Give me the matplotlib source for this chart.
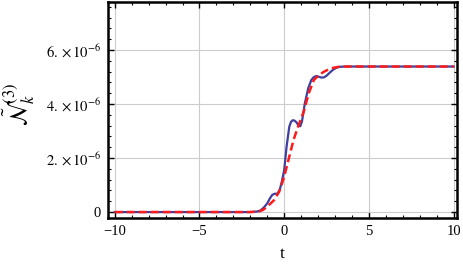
import matplotlib
matplotlib.use("Agg")
import matplotlib.pyplot as plt
from matplotlib.ticker import MultipleLocator

plt.rcParams['font.family'] = ['Liberation Serif', 'DejaVu Serif']
plt.rcParams['mathtext.fontset'] = 'stix'

# Blue solid curve (t, N*1e6)
t_blue = [-10, -2.0, -1.6, -1.4, -1.2, -1.0, -0.85, -0.7, -0.55, -0.4, -0.27, -0.15,
          0.0, 0.14, 0.3, 0.4, 0.5, 0.6, 0.73, 0.85, 0.95, 1.05, 1.22, 1.42, 1.6,
          1.75, 1.9, 2.05, 2.2, 2.35, 2.5, 2.7, 2.9, 3.1, 3.3, 3.6, 10]
n_blue = [0.0, 0.0, 0.02, 0.06, 0.17, 0.32, 0.50, 0.64, 0.68, 0.68, 0.81, 1.10,
          1.55, 2.42, 3.16, 3.34, 3.40, 3.39, 3.32, 3.20, 3.18, 3.36, 4.03, 4.59, 4.89,
          5.00, 5.04, 5.01, 4.98, 4.99, 5.05, 5.17, 5.28, 5.35, 5.38, 5.39, 5.39]

# Red dashed curve
t_red = [-10, -2.0, -1.5, -1.25, -1.0, -0.6, -0.3, -0.1, 0.0, 0.25, 0.55, 0.85,
         1.15, 1.45, 1.75, 2.05, 2.35, 2.75, 3.2, 3.6, 10]
n_red = [0.0, 0.0, 0.02, 0.08, 0.20, 0.44, 0.75, 1.12, 1.31, 1.93, 2.67, 3.22,
         3.71, 4.40, 4.89, 5.07, 5.20, 5.32, 5.38, 5.39, 5.39]

x_ticks = [-10, -5, 0, 5, 10]
x_labels = ['\u221210', '\u22125', '0', '5', '10']
y_ticks = [0, 2e-6, 4e-6, 6e-6]
y_labels = ['0', r'$2.\times10^{-6}$', r'$4.\times10^{-6}$', r'$6.\times10^{-6}$']

fig = plt.figure(figsize=(4.63, 2.72), dpi=100)
ax = fig.add_axes([108/463, 1-218/272, (457-108)/463, (218-2)/272])

ax.plot(t_blue, [v*1e-6 for v in n_blue], color='#3f3f9f', lw=1.6, zorder=3)
ax.plot(t_red, [v*1e-6 for v in n_red], color='#ff1a1a', lw=1.8, ls=(0, (3.2, 1.6)), zorder=4)

ax.set_xlim(-10.4, 10.2)
ax.set_ylim(-0.22e-6, 7.78e-6)
ax.set_xticks(x_ticks)
ax.set_xticklabels(x_labels)
ax.set_yticks(y_ticks)
ax.set_yticklabels(y_labels)
ax.xaxis.set_minor_locator(MultipleLocator(1))
ax.yaxis.set_minor_locator(MultipleLocator(0.4e-6))
ax.grid(True, which='major', color='#cccccc', lw=0.8)
ax.tick_params(which='both', direction='in', top=True, right=True, labelsize=10.5, color='black')
ax.tick_params(which='major', length=4, width=1, pad=5)
ax.tick_params(which='minor', length=2, width=0.8)
for s in ax.spines.values():
    s.set_linewidth(1.8)

ax.set_xlabel('t', fontsize=12.5, labelpad=6)
fig.text(19/463, 1-104/272, r'$\tilde{\mathcal{N}}_k^{(3)}$', fontsize=17,
         rotation=90, ha='center', va='center')

fig.savefig('out.png', dpi=100)
